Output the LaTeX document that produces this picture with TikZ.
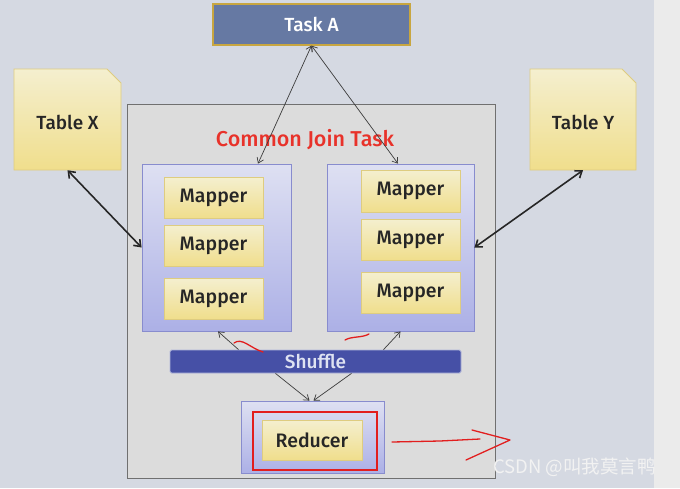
\documentclass[tikz,border=0pt]{standalone}
\usepackage{fontspec}
\setmainfont{Fira Sans}[BoldFont={Fira Sans Medium}]
\newfontfamily\cjkfont{Noto Sans CJK SC}
\usetikzlibrary{arrows.meta}
\definecolor{bgblue}{RGB}{213,217,226}
\definecolor{bggray}{RGB}{235,235,235}
\definecolor{taskfill}{RGB}{102,121,163}
\definecolor{taskborder}{RGB}{200,166,64}
\definecolor{yeltop}{RGB}{244,239,207}
\definecolor{yelbot}{RGB}{240,222,140}
\definecolor{yelborder}{RGB}{222,204,128}
\definecolor{cjtfill}{RGB}{220,220,220}
\definecolor{cjtborder}{RGB}{112,112,112}
\definecolor{grptop}{RGB}{222,224,242}
\definecolor{grpbot}{RGB}{172,176,230}
\definecolor{grpborder}{RGB}{136,140,206}
\definecolor{shufill}{RGB}{70,80,166}
\definecolor{shutext}{RGB}{222,226,242}
\definecolor{titlered}{RGB}{232,50,42}
\definecolor{markred}{RGB}{226,30,30}
\definecolor{arrowgray}{RGB}{60,60,60}
\definecolor{wmark}{RGB}{242,242,242}
\tikzset{
  taskbox/.style={draw=taskborder, line width=1.2pt, fill=taskfill, text=white, font=\bfseries\fontsize{19}{19}\selectfont, inner sep=0pt},
  tabletext/.style={font=\bfseries\fontsize{19}{19}\selectfont, text=black!85, inner sep=0pt},
  cjtbox/.style={draw=cjtborder, line width=0.8pt, fill=cjtfill, inner sep=0pt},
  grpbox/.style={draw=grpborder, line width=0.8pt, top color=grptop, bottom color=grpbot, inner sep=0pt},
  mapbox/.style={draw=yelborder, line width=0.8pt, top color=yeltop, bottom color=yelbot, font=\bfseries\fontsize{19.5}{19.5}\selectfont, text=black!85, inner sep=0pt, minimum width=99pt},
  shubox/.style={draw=shutext!70!shufill, line width=0.8pt, fill=shufill, text=shutext, font=\bfseries\fontsize{19}{19}\selectfont, inner sep=0pt, rounded corners=1.5pt},
  thinarrow/.style={draw=arrowgray, line width=0.7pt, {Straight Barb[length=5pt,width=7pt]}-{Straight Barb[length=5pt,width=7pt]}},
  onearrow/.style={draw=arrowgray, line width=0.7pt, -{Straight Barb[length=5pt,width=7pt]}},
  thickarrow/.style={draw=black!85, line width=1.6pt, {Straight Barb[length=6pt,width=9pt]}-{Straight Barb[length=6pt,width=9pt]}},
  redmark/.style={draw=markred, line width=1.3pt, line cap=round, line join=round}
}
\begin{document}
\begin{tikzpicture}[x=1pt,y=-1pt]
\useasboundingbox (0,0) rectangle (680,488);
\fill[bgblue] (0,0) rectangle (654,488);
\fill[bggray] (654,0) rectangle (680,488);

% Common Join Task container
\node[cjtbox, minimum width=368pt, minimum height=374pt] (cjt) at (311,291) {};
\node[text=titlered, font=\bfseries\fontsize{21.5}{21.5}\selectfont, inner sep=0pt] (title) at (305,140) {Common Join Task};

% Task A
\node[taskbox, minimum width=197pt, minimum height=41pt] (taska) at (311.5,24.5) {Task A};

% Table X / Y (dog-eared)
\shade[top color=yeltop, bottom color=yelbot, draw=yelborder, line width=0.8pt]
  (14,170) -- (14,69) -- (107,69) -- (121,83) -- (121,170) -- cycle;
\node[tabletext, minimum width=107pt, minimum height=95pt] (tablex) at (67.5,122.5) {Table X};
\shade[top color=yeltop, bottom color=yelbot, draw=yelborder, line width=0.8pt]
  (530,170) -- (530,69) -- (622,69) -- (636,83) -- (636,170) -- cycle;
\node[tabletext, minimum width=106pt, minimum height=95pt] (tabley) at (583,122.5) {Table Y};

% Mapper groups
\node[grpbox, minimum width=149pt, minimum height=167pt] (lg) at (216.5,247.5) {};
\node[grpbox, minimum width=147pt, minimum height=167pt] (rg) at (400.5,247.5) {};

\node[mapbox, minimum height=41pt] (m1) at (213.5,197.5) {Mapper};
\node[mapbox, minimum height=41pt] (m2) at (213.5,245.5) {Mapper};
\node[mapbox, minimum height=41pt] (m3) at (213.5,298.5) {Mapper};
\node[mapbox, minimum height=42pt] (m4) at (410.5,191) {Mapper};
\node[mapbox, minimum height=41pt] (m5) at (410.5,239.5) {Mapper};
\node[mapbox, minimum height=41pt] (m6) at (410.5,292.5) {Mapper};

% Shuffle
\node[shubox, minimum width=291pt, minimum height=23pt] (shuffle) at (315.5,361.5) {Shuffle};

% Reducer group
\node[grpbox, minimum width=143pt, minimum height=72pt] (redgrp) at (312.5,437) {};
\node[draw=markred, line width=1.3pt, minimum width=124pt, minimum height=58pt, inner sep=0pt] (redbox) at (315,441) {};
\node[mapbox, minimum width=100pt, minimum height=40pt] (reducer) at (312,440) {Reducer};

% Connectors
\draw[thinarrow] (taska.south) -- ([xshift=41.5pt]lg.north);
\draw[thinarrow] (taska.south) -- ([xshift=-2.5pt]rg.north);
\draw[thickarrow] (tablex.south) -- (lg.west);
\draw[thickarrow] (tabley.south) -- (rg.east);
\draw[onearrow] ([xshift=-77pt]shuffle.north) -- ([xshift=1.5pt]lg.south);
\draw[onearrow] ([xshift=68pt]shuffle.north) -- (rg.south);
\draw[onearrow] ([xshift=-40pt]shuffle.south) -- ([xshift=-3pt]redgrp.north);
\draw[onearrow] ([xshift=36pt]shuffle.south) -- ([xshift=1pt]redgrp.north);

% Red hand-drawn marks
\draw[redmark] (234,343) .. controls (242,337) and (250,348) .. (263,352);
\draw[redmark] (345,340) .. controls (352,336) and (362,338) .. (369,334);
\draw[redmark] (392,442) -- (440,441) -- (480,439);
\draw[redmark] (472,430) -- (510,440) -- (466,460);

% Watermark
\node[text=wmark, font=\cjkfont\fontsize{18.5}{18.5}\selectfont, inner sep=0pt, anchor=west] (wm) at (493,467) {CSDN @叫我莫言鸭};
\end{tikzpicture}
\end{document}
